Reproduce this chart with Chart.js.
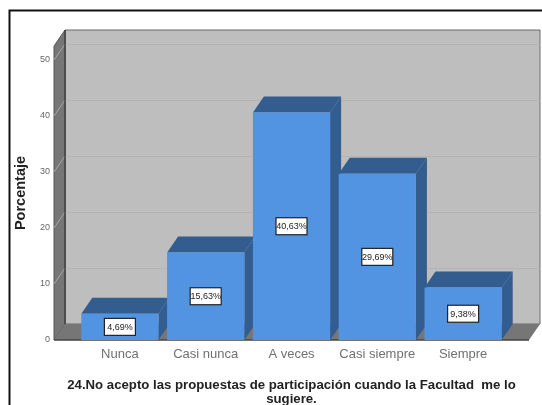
<!DOCTYPE html>
<html>
<head>
<meta charset="utf-8">
<style>
html, body { margin: 0; padding: 0; background: #fff; overflow: hidden; }
canvas { display: block; filter: blur(0.45px); }
</style>
<script src="https://cdn.jsdelivr.net/npm/chart.js@4"></script>
</head>
<body>
<canvas id="chart" width="542" height="405"></canvas>
<script>
const categories = ['Nunca', 'Casi nunca', 'A veces', 'Casi siempre', 'Siempre'];
const porcentajes = [4.69, 15.63, 40.63, 29.69, 9.38];
const yTicks = [0, 10, 20, 30, 40, 50];
const yMax = 52.5;
const titleLines = ['24.No acepto las propuestas de participación cuando la Facultad  me lo', 'sugiere.'];

const depthX = 11;
const depthY = 16;
const wallPad = 23;

function poly(ctx, pts, fill, stroke) {
    ctx.beginPath();
    pts.forEach((p, i) => i ? ctx.lineTo(p[0], p[1]) : ctx.moveTo(p[0], p[1]));
    ctx.closePath();
    ctx.fillStyle = fill;
    ctx.fill();
    if (stroke) {
        ctx.strokeStyle = stroke;
        ctx.lineWidth = 1;
        ctx.stroke();
    }
}

const box3d = {
    id: 'box3d',
    beforeDraw(chart) {
        const c = chart.ctx;
        c.save();
        c.strokeStyle = '#111';
        c.lineWidth = 2;
        c.beginPath();
        c.moveTo(9.5, 405);
        c.lineTo(9.5, 10.5);
        c.lineTo(542, 10.5);
        c.stroke();
        c.restore();
    },
    beforeDatasetsDraw(chart) {
        const c = chart.ctx;
        const a = chart.chartArea;
        const y = chart.scales.y;
        const l = a.left - wallPad, r = a.right + wallPad, b = a.bottom, t = a.top;
        c.save();
        // back wall, side wall and floor
        poly(c, [[l + depthX, t - depthY], [r + depthX, t - depthY], [r + depthX, b - depthY], [l + depthX, b - depthY]], '#bebebe', '#6a6a6a');
        poly(c, [[l, t], [l + depthX, t - depthY], [l + depthX, b - depthY], [l, b]], '#767676', '#555');
        poly(c, [[l, b], [l + depthX, b - depthY], [r + depthX, b - depthY], [r, b]], '#767676');
        yTicks.slice(1).forEach(v => {
            const py = y.getPixelForValue(v);
            c.strokeStyle = '#b4b4b4';
            c.lineWidth = 1;
            c.beginPath();
            c.moveTo(l + depthX, py - depthY + 0.5);
            c.lineTo(r + depthX, py - depthY + 0.5);
            c.stroke();
            c.strokeStyle = '#a8a8a8';
            c.beginPath();
            c.moveTo(l, py);
            c.lineTo(l + depthX, py - depthY);
            c.stroke();
        });
        c.strokeStyle = '#444';
        c.lineWidth = 1.5;
        c.beginPath();
        c.moveTo(l, b);
        c.lineTo(r, b);
        c.moveTo(l + depthX, t - depthY);
        c.lineTo(l + depthX, b - depthY);
        c.stroke();
        // top and side of each bar
        chart.getDatasetMeta(0).data.forEach(bar => {
            const p = bar.getProps(['x', 'y', 'base', 'width']);
            const x0 = p.x - p.width / 2, x1 = p.x + p.width / 2;
            poly(c, [[x0, p.y], [x0 + depthX, p.y - depthY], [x1 + depthX, p.y - depthY], [x1, p.y]], '#335c8f');
            poly(c, [[x1, p.y], [x1 + depthX, p.y - depthY], [x1 + depthX, p.base - depthY], [x1, p.base]], '#335c8f');
        });
        c.restore();
    },
    afterDatasetsDraw(chart) {
        const c = chart.ctx;
        const a = chart.chartArea;
        c.save();
        c.font = '9px "Liberation Sans"';
        c.textAlign = 'center';
        c.textBaseline = 'middle';
        chart.getDatasetMeta(0).data.forEach((bar, i) => {
            const p = bar.getProps(['x', 'y', 'base']);
            const cy = (p.y + p.base) / 2;
            const txt = porcentajes[i].toFixed(2).replace('.', ',') + '%';
            c.fillStyle = '#fff';
            c.fillRect(p.x - 15.5, cy - 8.5, 31, 17);
            c.strokeStyle = '#222';
            c.lineWidth = 1.2;
            c.strokeRect(p.x - 15.5, cy - 8.5, 31, 17);
            c.fillStyle = '#222';
            c.fillText(txt, p.x, cy + 0.5);
        });
        // axis title is wider than the scale, chart.js would squeeze it
        c.font = 'bold 13.2px "Liberation Sans"';
        c.fillStyle = '#222';
        titleLines.forEach((line, i) => {
            c.fillText(line, (a.left + a.right) / 2, a.bottom + 45 + i * 14);
        });
        c.restore();
    }
};

new Chart(document.getElementById('chart'), {
    type: 'bar',
    data: {
        labels: categories,
        datasets: [{
            data: porcentajes,
            backgroundColor: '#5294e2',
            borderWidth: 0,
            barPercentage: 0.9,
            categoryPercentage: 1.0
        }]
    },
    options: {
        responsive: false,
        animation: false,
        events: [],
        layout: { padding: { left: 0, right: 36, top: 46, bottom: 0 } },
        plugins: { legend: { display: false }, tooltip: { enabled: false } },
        scales: {
            x: {
                grid: { display: false, drawTicks: false },
                border: { display: false },
                ticks: { color: '#707070', font: { family: 'Liberation Sans', size: 13 }, padding: 7, maxRotation: 0, autoSkip: false },
                afterFit(s) { s.height = 65; }
            },
            y: {
                min: 0,
                max: yMax,
                grid: { display: false, drawTicks: false },
                border: { display: false },
                ticks: { color: '#666', font: { family: 'Liberation Sans', size: 9 }, padding: 27 },
                afterBuildTicks(s) { s.ticks = yTicks.map(v => ({ value: v })); },
                title: {
                    display: true,
                    text: 'Porcentaje',
                    color: '#222',
                    font: { family: 'Liberation Sans', size: 14.5, weight: 'bold' },
                    padding: { top: 12, bottom: 0 }
                },
                afterFit(s) { s.width = 77; }
            }
        }
    },
    plugins: [box3d]
});
</script>
</body>
</html>
